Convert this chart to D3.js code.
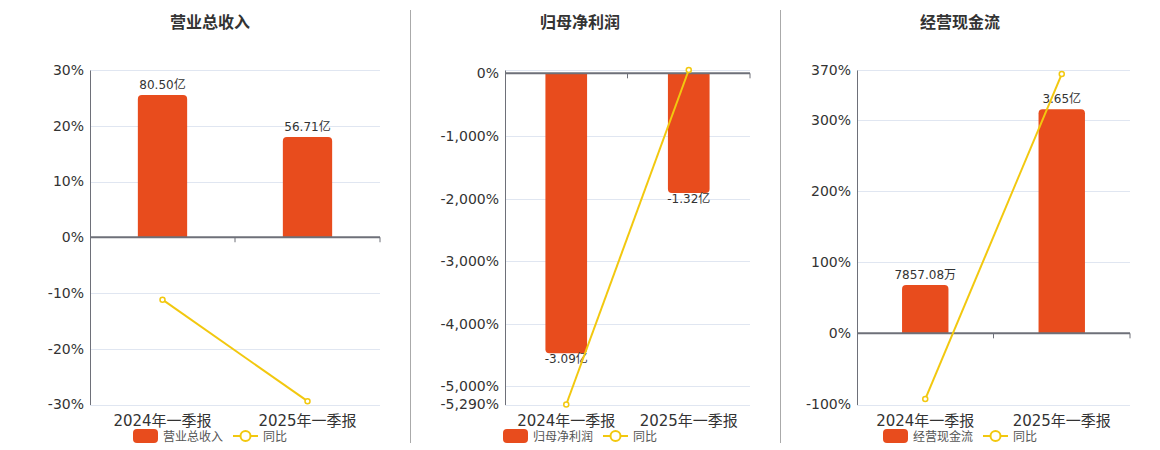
<!DOCTYPE html>
<html>
<head>
<meta charset="utf-8">
<script src="https://cdn.jsdelivr.net/npm/d3@7/dist/d3.min.js"></script>
<style>
  body { margin: 0; background: #fff; }
  svg text { font-family: "DejaVu Sans", "Noto Sans CJK SC", sans-serif; }
</style>
</head>
<body>
<script>
// data
var categories = ["2024年一季报", "2025年一季报"];

var revenueTitle = "营业总收入";
var revenue = [80.50, 56.71];                 // 亿
var revenueLabels = ["80.50亿", "56.71亿"];
var revenueYoY = [-11.2, -29.4];              // %
var revenueTicks = [30, 20, 10, 0, -10, -20, -30];
var revenueYDomain = [-30, 30];
var revenueBarDomain = [-94.6, 94.6];

var profitTitle = "归母净利润";
var profit = [-3.09, -1.32];
var profitLabels = ["-3.09亿", "-1.32亿"];
var profitYoY = [-5290, 53];
var profitTicks = [0, -1000, -2000, -3000, -4000, -5000, -5290];
var profitYDomain = [-5290, 53];
var profitBarDomain = [-3.655, 0.036];

var cashTitle = "经营现金流";
var cash = [0.785708, 3.65];
var cashLabels = ["7857.08万", "3.65亿"];
var cashYoY = [-92.3, 364.3];
var cashTicks = [370, 300, 200, 100, 0, -100];
var cashYDomain = [-100, 370];
var cashBarDomain = [-1.16, 4.29];

var yoyName = "同比";

var width = 1160, height = 450;
var barColor = "#e84c1d",
    lineColor = "#f2c80f",
    axisColor = "#6e7079",
    gridColor = "#e0e6f1",
    textColor = "#333";

var svg = d3.select("body")
    .append("svg")
    .attr("width", width)
    .attr("height", height);

// separators between the three charts
[410.5, 780.5].forEach(function(x) {
    svg.append("line")
        .attr("x1", x).attr("x2", x)
        .attr("y1", 10).attr("y2", 443)
        .attr("stroke", "#aaa")
        .attr("stroke-width", 1);
});

var fmt = d3.format(",");

function drawPanel(p) {
    var g = svg.append("g");

    var x = d3.scaleBand()
        .domain(categories)
        .range([p.left, p.right])
        .paddingInner(0)
        .paddingOuter(0);

    var y = d3.scaleLinear().domain(p.yDomain).range([404.5, 70]);
    var yBar = d3.scaleLinear().domain(p.barDomain).range([404.5, 70]);
    var bw = x.bandwidth() * 0.34;

    // title
    g.append("text")
        .attr("x", p.center).attr("y", 28)
        .attr("text-anchor", "middle")
        .attr("font-size", 16)
        .attr("font-weight", "bold")
        .attr("fill", textColor)
        .text(p.title);

    // grid lines (include top of plot)
    var gridVals = p.ticks.concat([p.yDomain[1]]);
    g.selectAll(".grid")
        .data(gridVals)
        .enter()
        .append("line")
        .attr("x1", p.left).attr("x2", p.right)
        .attr("y1", function(d) { return Math.round(y(d)) + 0.5; })
        .attr("y2", function(d) { return Math.round(y(d)) + 0.5; })
        .attr("stroke", gridColor)
        .attr("stroke-width", 1);

    // y axis labels
    var yAxis = d3.axisLeft(y)
        .tickValues(p.ticks)
        .tickSize(0)
        .tickPadding(6)
        .tickFormat(function(d) { return fmt(d).replace("\u2212", "-") + "%"; });
    var ya = g.append("g")
        .attr("transform", "translate(" + p.left + ",0)")
        .call(yAxis);
    ya.select(".domain").attr("stroke", axisColor).attr("stroke-width", 1);
    ya.selectAll("text")
        .attr("font-size", 14)
        .attr("fill", textColor)
        .style("font-family", "'DejaVu Sans', sans-serif");

    // bars, rounded at the outer end
    var r = 4;
    g.selectAll(".bar")
        .data(p.bars)
        .enter()
        .append("path")
        .attr("fill", barColor)
        .attr("d", function(d, i) {
            var x0 = x(categories[i]) + (x.bandwidth() - bw) / 2,
                x1 = x0 + bw,
                y0 = yBar(0),
                y1 = yBar(d);
            if (d >= 0) {
                return "M" + x0 + "," + y0 + "V" + (y1 + r) +
                    "Q" + x0 + "," + y1 + " " + (x0 + r) + "," + y1 +
                    "H" + (x1 - r) + "Q" + x1 + "," + y1 + " " + x1 + "," + (y1 + r) +
                    "V" + y0 + "Z";
            }
            return "M" + x0 + "," + y0 + "V" + (y1 - r) +
                "Q" + x0 + "," + y1 + " " + (x0 + r) + "," + y1 +
                "H" + (x1 - r) + "Q" + x1 + "," + y1 + " " + x1 + "," + (y1 - r) +
                "V" + y0 + "Z";
        });

    // bar value labels
    g.selectAll(".barLabel")
        .data(p.bars)
        .enter()
        .append("text")
        .attr("x", function(d, i) { return x(categories[i]) + x.bandwidth() / 2; })
        .attr("y", function(d) { return d >= 0 ? yBar(d) - 6 : yBar(d) + 10; })
        .attr("text-anchor", "middle")
        .attr("font-size", 12)
        .attr("fill", textColor)
        .text(function(d, i) { return p.labels[i]; });

    // x axis at zero
    var xAxis = d3.axisBottom(x).tickSize(0).tickFormat("");
    var y0 = y(0);
    var xa = g.append("g")
        .attr("transform", "translate(0," + y0 + ")")
        .call(xAxis);
    xa.select(".domain").remove();
    xa.append("line")
        .attr("x1", p.left).attr("x2", p.right)
        .attr("stroke", axisColor).attr("stroke-width", 2);
    xa.selectAll(".bnd")
        .data(categories)
        .enter()
        .append("line")
        .attr("x1", function(d) { return x(d) + x.bandwidth(); })
        .attr("x2", function(d) { return x(d) + x.bandwidth(); })
        .attr("y1", 0).attr("y2", 5)
        .attr("stroke", axisColor).attr("stroke-width", 1);

    // category labels under the plot
    g.selectAll(".cat")
        .data(categories)
        .enter()
        .append("text")
        .attr("x", function(d) { return x(d) + x.bandwidth() / 2; })
        .attr("y", 426)
        .attr("text-anchor", "middle")
        .attr("font-size", 15)
        .attr("fill", textColor)
        .text(function(d) { return d; });

    // yoy line
    var line = d3.line()
        .x(function(d, i) { return x(categories[i]) + x.bandwidth() / 2; })
        .y(function(d) { return y(d); });
    g.append("path")
        .datum(p.yoy)
        .attr("d", line)
        .attr("fill", "none")
        .attr("stroke", lineColor)
        .attr("stroke-width", 2);
    g.selectAll(".pt")
        .data(p.yoy)
        .enter()
        .append("circle")
        .attr("cx", function(d, i) { return x(categories[i]) + x.bandwidth() / 2; })
        .attr("cy", function(d) { return y(d); })
        .attr("r", 2.5)
        .attr("fill", "#fff")
        .attr("stroke", lineColor)
        .attr("stroke-width", 1.5);

    // legend
    var c = p.center;
    var lg = g.append("g");
    lg.append("rect")
        .attr("x", c - 77).attr("y", 429)
        .attr("width", 25).attr("height", 14)
        .attr("rx", 4)
        .attr("fill", barColor);
    lg.append("text")
        .attr("x", c - 47).attr("y", 440.5)
        .attr("font-size", 12)
        .attr("fill", "#555")
        .text(p.title);
    lg.append("line")
        .attr("x1", c + 23).attr("x2", c + 48)
        .attr("y1", 436).attr("y2", 436)
        .attr("stroke", lineColor).attr("stroke-width", 2);
    lg.append("circle")
        .attr("cx", c + 35.5).attr("cy", 436)
        .attr("r", 5)
        .attr("fill", "#fff")
        .attr("stroke", lineColor).attr("stroke-width", 2);
    lg.append("text")
        .attr("x", c + 53).attr("y", 440.5)
        .attr("font-size", 12)
        .attr("fill", "#555")
        .text(yoyName);
}

drawPanel({
    title: revenueTitle, center: 210, left: 90, right: 380,
    bars: revenue, labels: revenueLabels, yoy: revenueYoY,
    ticks: revenueTicks, yDomain: revenueYDomain, barDomain: revenueBarDomain
});
drawPanel({
    title: profitTitle, center: 580, left: 505, right: 750,
    bars: profit, labels: profitLabels, yoy: profitYoY,
    ticks: profitTicks, yDomain: profitYDomain, barDomain: profitBarDomain
});
drawPanel({
    title: cashTitle, center: 960, left: 857, right: 1130,
    bars: cash, labels: cashLabels, yoy: cashYoY,
    ticks: cashTicks, yDomain: cashYDomain, barDomain: cashBarDomain
});
</script>
</body>
</html>
